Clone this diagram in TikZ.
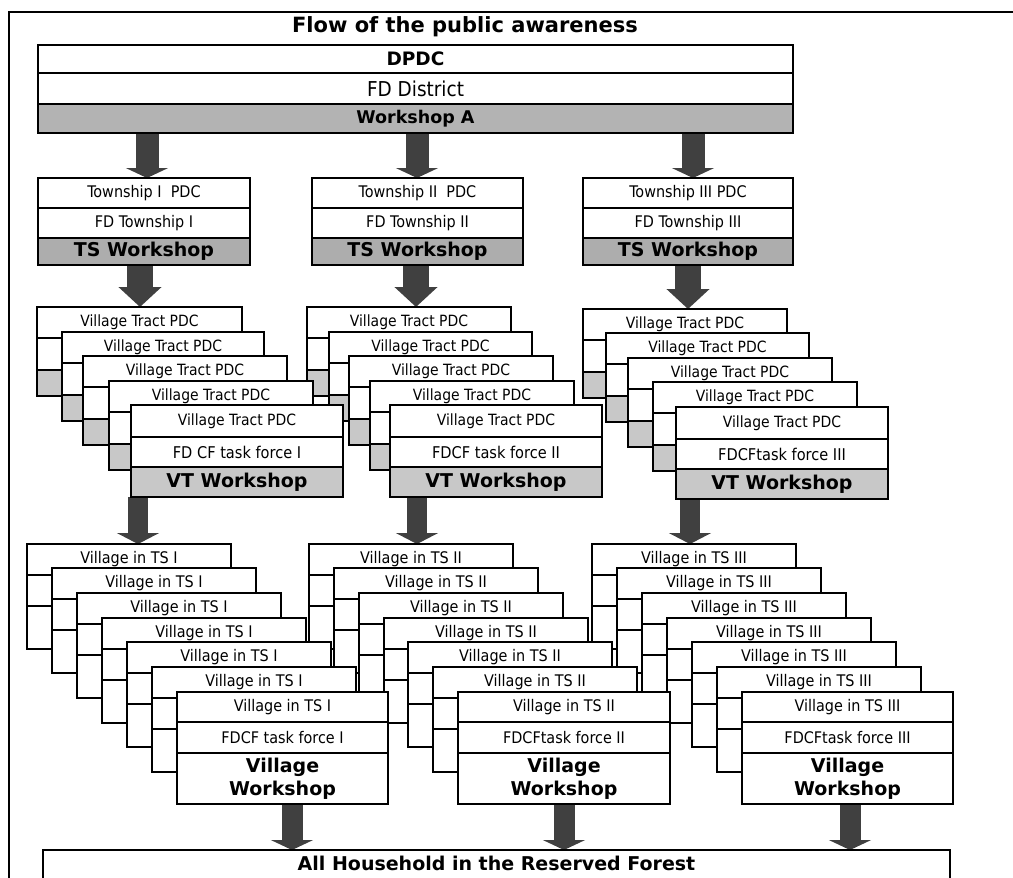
\documentclass[tikz,border=0pt]{standalone}
\usepackage{fontspec}
\setmainfont{DejaVu Sans}
\newfontfamily\condfont{DejaVuSansCondensed.ttf}
\usetikzlibrary{arrows.meta}
\pgfdeclarelayer{under}
\pgfsetlayers{under,main}
\definecolor{arrowgray}{HTML}{404040}
\definecolor{wsgray}{HTML}{B3B3B3}
\definecolor{tsgray}{HTML}{ADADAD}
\definecolor{vtgray}{HTML}{C8C8C8}
\newcommand\fsz[1]{\fontsize{#1}{#1}\selectfont}
\newcommand\vtfont{\condfont\fsz{15.5}}
\newcommand\forcefont{\condfont\fsz{16.2}}
\newcommand\vilfont{\condfont\fsz{16}}
\tikzset{
  cell/.style={draw, line width=1.8pt, fill=white, anchor=north west,
    inner sep=0pt, outer sep=0pt, align=center},
  topcell/.style={cell, line width=1.5pt},
  flowarrow/.style 2 args={line width=#1, arrowgray,
    -{Triangle[width=42pt,length=#2]}}
}
% stack of village tract cards: back cards, then the front card
\newcommand\vtstack[6]{%
  \foreach \x/\y/\w [count=\k] in {#2}{%
    \node[cell, minimum width=\w pt, minimum height=31pt, font=\vtfont] (vt#1b\k) at (\x,\y) {Village Tract PDC};
    \node[cell, minimum width=\w pt, minimum height=32pt] (vt#1m\k) at (\x,\y+31) {};
    \node[cell, fill=vtgray, minimum width=\w pt, minimum height=26pt] (vt#1g\k) at (\x,\y+63) {};
  }
  \node[cell, minimum width=#5pt, minimum height=32pt, font=\vtfont] (vt#1top) at (#3,#4) {Village Tract PDC};
  \node[cell, minimum width=#5pt, minimum height=30pt, font=\forcefont] (vt#1force) at (#3,#4+32) {#6};
  \node[cell, fill=vtgray, minimum width=#5pt, minimum height=30pt, font=\bfseries\fsz{19}] (vt#1ws) at (#3,#4+62) {VT Workshop};
}
% stack of village cards
\newcommand\vilstack[7]{%
  \foreach \x/\y/\w [count=\k] in {#2}{%
    \node[cell, minimum width=\w pt, minimum height=31pt, font=\vilfont] (vl#1b\k) at (\x,\y) {#6};
    \node[cell, minimum width=\w pt, minimum height=31pt] (vl#1m\k) at (\x,\y+31) {};
    \node[cell, minimum width=\w pt, minimum height=43pt] (vl#1g\k) at (\x,\y+62) {};
  }
  \node[cell, minimum width=#5pt, minimum height=30pt, font=\vilfont] (vl#1top) at (#3,#4) {#6};
  \node[cell, minimum width=#5pt, minimum height=31pt, font=\vilfont] (vl#1force) at (#3,#4+30) {#7};
  \node[cell, minimum width=#5pt, minimum height=51pt, font=\bfseries\fontsize{19}{23}\selectfont] (vl#1ws) at (#3,#4+61) {Village\\Workshop};
}
% township block
\newcommand\tsblock[5]{%
  \node[cell, minimum width=#3pt, minimum height=30pt, font=\condfont\fsz{16}] (ts#1a) at (#2,178) {#4};
  \node[cell, minimum width=#3pt, minimum height=30pt, font=\condfont\fsz{16}] (ts#1b) at (#2,208) {#5};
  \node[cell, fill=tsgray, minimum width=#3pt, minimum height=27pt, font=\bfseries\fsz{19}] (ts#1ws) at (#2,238) {TS Workshop};
}
\begin{document}
\begin{tikzpicture}[x=1pt,y=-1pt]
\useasboundingbox (0,0) rectangle (1013,878);
\draw[line width=1.3pt] (9,878) -- (9,12) -- (1013,12);

\node[font=\bfseries\fsz{21}] (title) at (465,27) {Flow of the public awareness};

% district level
\node[topcell, minimum width=755pt, minimum height=28pt, font=\bfseries\fsz{18.5}] (dpdc) at (38,45) {DPDC};
\node[topcell, minimum width=755pt, minimum height=31pt, font=\condfont\fsz{20.5}] (fdd) at (38,73) {FD District};
\node[topcell, fill=wsgray, minimum width=755pt, minimum height=29pt, font=\bfseries\fsz{17.5}] (wsA) at (38,104) {Workshop A};

% township level
\tsblock{1}{38}{212}{Township I\ \ PDC}{FD Township I}
\tsblock{2}{312}{211}{Township II\ \ PDC}{FD Township II}
\tsblock{3}{583}{210}{Township III PDC}{FD Township III}

% village tract level
\vtstack{3}{583/309/204, 606/333/203, 628/358/204, 653/382/204}{676}{407}{212}{FDCFtask force III}
\vtstack{2}{307/307/204, 329/332/203, 349/356/204, 370/381/204}{390}{405}{212}{FDCF task force II}
\vtstack{1}{37/307/205, 62/332/202, 83/356/204, 109/381/204}{131}{405}{212}{FD CF task force I}

% village level
\vilstack{3}{592/544/204, 617/568/204, 642/593/204, 667/618/204, 692/642/204, 717/667/204}{742}{692}{211}{Village in TS III}{FDCFtask force III}
\vilstack{2}{309/544/204, 334/568/204, 359/593/204, 384/618/204, 408/642/204, 433/667/204}{458}{692}{212}{Village in TS II}{FDCFtask force II}
\vilstack{1}{27/544/204, 52/568/204, 77/593/204, 102/618/204, 127/642/204, 152/667/204}{177}{692}{211}{Village in TS I}{FDCF task force I}

% households
\node[topcell, line width=1.8pt, minimum width=907pt, minimum height=32pt, text height=14pt, text depth=6pt, font=\bfseries\fsz{19}] (hh) at (43,850) {All Household in the Reserved Forest};

% arrow axes
\coordinate (r1a) at (147,0); \coordinate (r1b) at (417,0); \coordinate (r1c) at (693,0);
\coordinate (r2a) at (140,0); \coordinate (r2b) at (416,0); \coordinate (r2c) at (688,0);
\coordinate (r3a) at (138,0); \coordinate (r3b) at (417,0); \coordinate (r3c) at (690,0);
\coordinate (r4a) at (292,0); \coordinate (r4b) at (564,0); \coordinate (r4c) at (850,0);

\begin{pgfonlayer}{under}
  \draw[flowarrow={23pt}{10pt}] (wsA.south -| r1a) -- (ts1a.north -| r1a);
  \draw[flowarrow={23pt}{10pt}] (wsA.south -| r1b) -- (ts2a.north -| r1b);
  \draw[flowarrow={23pt}{10pt}] (wsA.south -| r1c) -- (ts3a.north -| r1c);
  \draw[flowarrow={26pt}{20pt}] (ts1ws.south -| r2a) -- (vt1b1.north -| r2a);
  \draw[flowarrow={26pt}{20pt}] (ts2ws.south -| r2b) -- (vt2b1.north -| r2b);
  \draw[flowarrow={26pt}{20pt}] (ts3ws.south -| r2c) -- (vt3b1.north -| r2c);
  \draw[flowarrow={20pt}{11pt}] (vt1ws.south -| r3a) -- (vl1b1.north -| r3a);
  \draw[flowarrow={20pt}{11pt}] (vt2ws.south -| r3b) -- (vl2b1.north -| r3b);
  \draw[flowarrow={20pt}{11pt}] (vt3ws.south -| r3c) -- (vl3b1.north -| r3c);
  \draw[flowarrow={21pt}{10pt}] (vl1ws.south -| r4a) -- (hh.north -| r4a);
  \draw[flowarrow={21pt}{10pt}] (vl2ws.south -| r4b) -- (hh.north -| r4b);
  \draw[flowarrow={21pt}{10pt}] (vl3ws.south -| r4c) -- (hh.north -| r4c);
\end{pgfonlayer}
\end{tikzpicture}
\end{document}
